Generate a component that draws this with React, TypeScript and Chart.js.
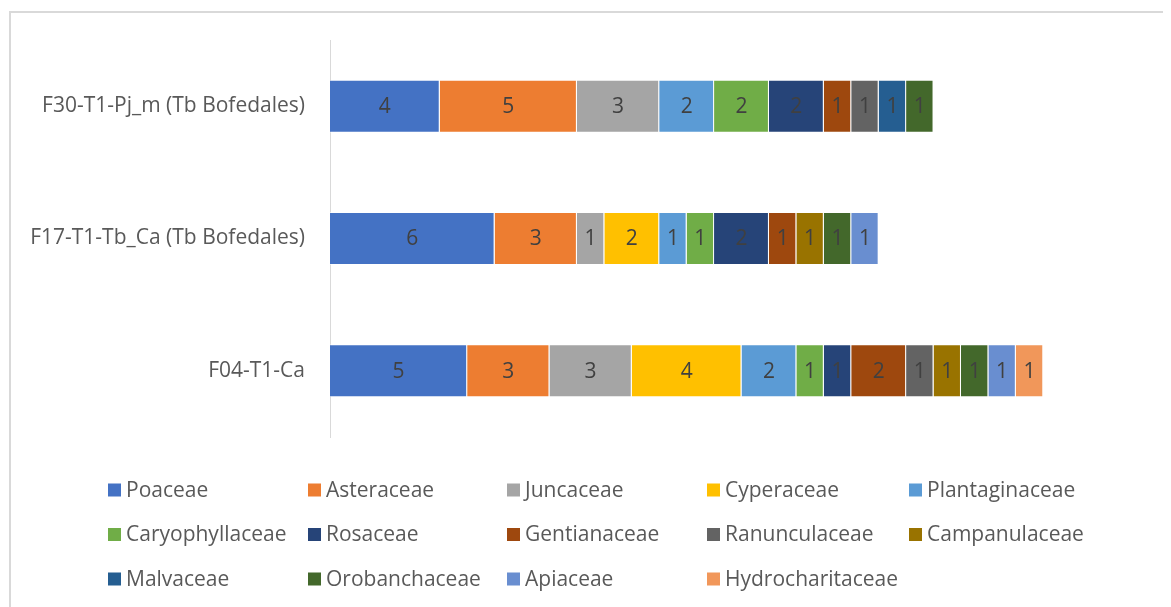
import React, { useEffect, useRef } from "react";
import { Chart, registerables } from "chart.js";

Chart.register(...registerables);

const FONT = "'Open Sans', 'Noto Sans', sans-serif";

const categories = [
  "F30-T1-Pj_m (Tb Bofedales)",
  "F17-T1-Tb_Ca (Tb Bofedales)",
  "F04-T1-Ca",
];

const poaceae = [4, 6, 5];
const asteraceae = [5, 3, 3];
const juncaceae = [3, 1, 3];
const cyperaceae = [null, 2, 4];
const plantaginaceae = [2, 1, 2];
const caryophyllaceae = [2, 1, 1];
const rosaceae = [2, 2, 1];
const gentianaceae = [1, 1, 2];
const ranunculaceae = [1, null, 1];
const campanulaceae = [null, 1, 1];
const malvaceae = [1, null, null];
const orobanchaceae = [1, 1, 1];
const apiaceae = [null, 1, 1];
const hydrocharitaceae = [null, null, 1];

const seriesNames = [
  "Poaceae",
  "Asteraceae",
  "Juncaceae",
  "Cyperaceae",
  "Plantaginaceae",
  "Caryophyllaceae",
  "Rosaceae",
  "Gentianaceae",
  "Ranunculaceae",
  "Campanulaceae",
  "Malvaceae",
  "Orobanchaceae",
  "Apiaceae",
  "Hydrocharitaceae",
];

const seriesValues = [
  poaceae,
  asteraceae,
  juncaceae,
  cyperaceae,
  plantaginaceae,
  caryophyllaceae,
  rosaceae,
  gentianaceae,
  ranunculaceae,
  campanulaceae,
  malvaceae,
  orobanchaceae,
  apiaceae,
  hydrocharitaceae,
];

const seriesColors = [
  "#4472C4",
  "#ED7D31",
  "#A5A5A5",
  "#FFC000",
  "#5B9BD5",
  "#70AD47",
  "#264478",
  "#9E480E",
  "#636363",
  "#997300",
  "#255E91",
  "#43682B",
  "#698ED0",
  "#F1975A",
];

const dataLabelPlugin = {
  id: "segmentLabels",
  afterDatasetsDraw(chart: any) {
    const ctx = chart.ctx;
    ctx.save();
    ctx.font = `21px ${FONT}`;
    ctx.fillStyle = "#404040";
    ctx.textAlign = "center";
    ctx.textBaseline = "middle";
    chart.data.datasets.forEach((ds: any, i: number) => {
      const meta = chart.getDatasetMeta(i);
      meta.data.forEach((el: any, j: number) => {
        const v = ds.data[j];
        if (v === null || v === undefined || v === 0) return;
        const x = (el.x + el.base) / 2;
        ctx.fillText(String(v), x, el.y + 1);
      });
    });
    ctx.restore();
  },
};

const gridLegendPlugin = {
  id: "gridLegend",
  afterDraw(chart: any) {
    const ctx = chart.ctx;
    ctx.save();
    ctx.font = `21px ${FONT}`;
    ctx.textBaseline = "middle";
    ctx.textAlign = "left";
    const colX = [97, 297, 496, 696, 898];
    chart.data.datasets.forEach((ds: any, i: number) => {
      const col = i % 5;
      const row = Math.floor(i / 5);
      const x = colX[col];
      const y = chart.chartArea.bottom + 53 + row * 44.5;
      ctx.fillStyle = ds.backgroundColor;
      ctx.fillRect(x, y - 6.5, 13, 13);
      ctx.fillStyle = "#595959";
      ctx.fillText(ds.label, x + 18, y + 1);
    });
    ctx.restore();
  },
};

export default function App() {
  const canvasRef = useRef<HTMLCanvasElement | null>(null);

  useEffect(() => {
    document.body.style.overflow = "hidden";
    const canvas = canvasRef.current;
    if (!canvas) return;
    const chart = new Chart(canvas, {
      type: "bar",
      data: {
        labels: categories,
        datasets: seriesNames.map((name, i) => ({
          label: name,
          data: seriesValues[i],
          backgroundColor: seriesColors[i],
          borderColor: "rgba(255,255,255,0.55)",
          borderWidth: 1,
          barPercentage: 0.4,
          categoryPercentage: 1,
        })),
      },
      options: {
        indexAxis: "y",
        responsive: false,
        animation: false,
        devicePixelRatio: 1,
        layout: { padding: { top: 27, bottom: 170, right: 18, left: 0 } },
        plugins: {
          legend: { display: false },
          tooltip: { enabled: false },
        },
        scales: {
          x: {
            stacked: true,
            display: false,
            min: 0,
            max: 30,
          },
          y: {
            stacked: true,
            grid: { display: false, drawTicks: false },
            border: { display: true, color: "#D9D9D9", width: 1 },
            ticks: {
              color: "#595959",
              padding: 25,
              font: { family: FONT, size: 21 },
            },
            afterFit(scale: any) {
              scale.width = 319;
              scale.paddingTop = 0;
              scale.paddingBottom = 0;
            },
          },
        },
      },
      plugins: [dataLabelPlugin, gridLegendPlugin],
    } as any);
    return () => chart.destroy();
  }, []);

  return (
    <div style={{ paddingTop: 3, paddingLeft: 1 }}>
      <div
        style={{
          borderLeft: "2px solid #D9D9D9",
          borderTop: "2px solid #D9D9D9",
          width: 1170,
          height: 600,
        }}
      >
        <canvas
          ref={canvasRef}
          width={1160}
          height={594}
          style={{ display: "block", width: 1160, height: 594 }}
        />
      </div>
    </div>
  );
}
